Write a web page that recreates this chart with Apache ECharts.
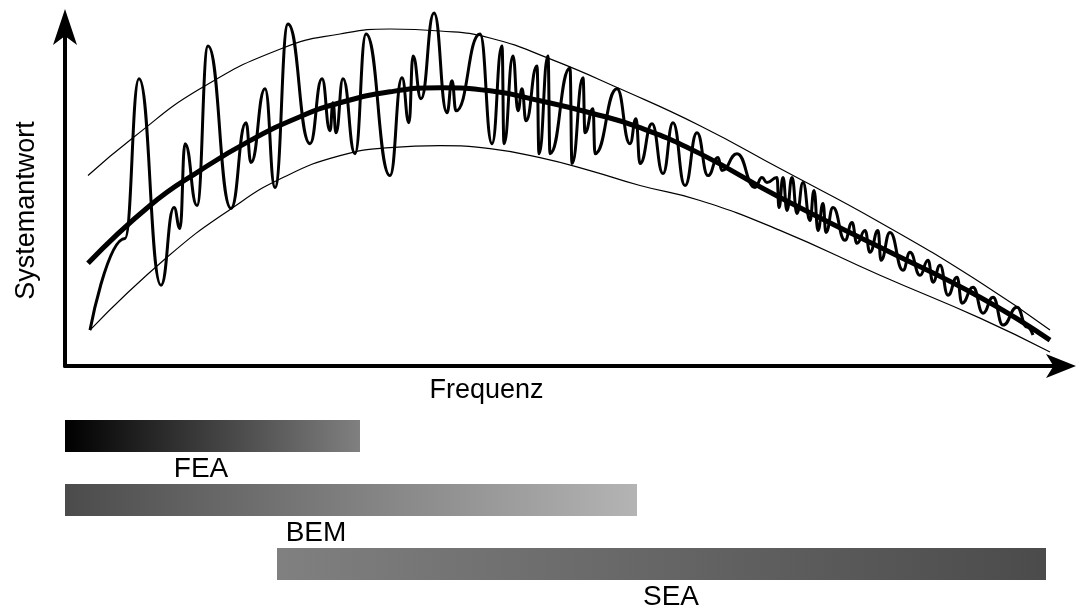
<!DOCTYPE html>
<html>
<head>
<meta charset="utf-8">
<script src="https://cdn.jsdelivr.net/npm/echarts@6/dist/echarts.min.js"></script>
<style>
  html, body { margin: 0; padding: 0; background: #fff; }
  #chart { width: 1076px; height: 612px; }
</style>
</head>
<body>
<div id="chart"></div>
<script>
// Frequenz (0..997) / Systemantwort (0..340), schematic units
const meanCurve = [[23,103],[85,161],[135,196],[185,226],[235,250],[275,264],[325,275],[375,279],[425,276],[475,266],[525,254],[575,239],[635,213],[715,169],[815,119],[915,69],[985,26]]
const upperBound = [[23,191],[68,229],[135,278],[218,319],[275,333],[325,338],[375,336],[425,329],[485,308],[555,278],[635,241],[715,198],[815,144],[915,84],[985,36]]
const lowerBound = [[25,36],[102,109],[168,159],[218,189],[275,211],[325,219],[375,221],[425,218],[475,209],[525,196],[575,181],[635,166],[715,136],[815,91],[915,48],[985,14]]
const response = [
  [25,36],[60,128],[74,288],[96,81],[109,159],[115,138],[120,223],[132,161],[143,321],[166,158],[181,244],
  [186,204],[200,278],[210,179],[223,343],[245,223],[257,288],[265,236],[268,264],[271,234],[278,288],
  [290,213],[301,333],[325,191],[337,289],[344,244],[348,311],[356,268],[369,354],[382,254],[387,286],
  [391,256],[415,333],[427,223],[437,321],[439,223],[448,311],[453,256],[457,278],[461,246],[472,301],
  [474,213],[483,311],[485,213],[505,299],[507,203],[518,289],[520,234],[528,258],[530,213],[552,278],
  [565,223],[571,248],[575,203],[587,243],[598,193],[608,244],[620,181],[632,234],[643,191],[653,209],
  [657,196],[672,213],[690,179],[697,189],[702,184],[712,189],[714,159],[718,189],[722,156],[727,189],
  [732,153],[738,184],[745,146],[749,176],[753,136],[758,163],[761,134],[768,159],[780,126],[787,144],
  [792,123],[800,136],[805,114],[813,136],[816,106],[825,134],[838,96],[845,114],[855,91],[863,106],
  [868,84],[875,101],[883,71],[892,89],[897,63],[908,79],[918,53],[928,69],[938,41],[952,59],
  [962,39],[968,31]
]

// Verfahren und ihre Frequenzbereiche
const methods = ['FEA', 'BEM', 'SEA']
const rangeStart = [0, 0, 212]
const rangeEnd = [295, 572, 981]
const labelAt = [136, 251, 606]

const gradients = [
  ['#000000', '#808080'],
  ['#4b4b4b', '#b4b4b4'],
  ['#808080', '#4b4b4b']
]

const font = 'Liberation Sans, Arial, sans-serif'
const myChart = echarts.init(document.getElementById('chart'))

const thin = { color: '#000', width: 1.2 }

const options = {
  animation: false,
  backgroundColor: '#fff',
  grid: [
    { left: 65, right: 14, top: 27, bottom: 246 },
    { left: 65, right: 14, top: 404, height: 192 }
  ],
  xAxis: [
    {
      type: 'value',
      min: 0,
      max: 997,
      name: 'Frequenz',
      nameLocation: 'middle',
      nameGap: 11,
      nameTextStyle: { fontSize: 27, fontFamily: font, color: '#000', padding: [0, 154, 0, 0] },
      axisLine: {
        symbol: ['none', 'arrow'],
        symbolSize: [18, 30],
        symbolOffset: [0, 14],
        lineStyle: { color: '#000', width: 4 }
      },
      axisTick: { show: false },
      axisLabel: { show: false },
      splitLine: { show: false }
    },
    { type: 'value', gridIndex: 1, min: 0, max: 997, show: false }
  ],
  yAxis: [
    {
      type: 'value',
      min: 0,
      max: 340,
      name: 'Systemantwort',
      nameLocation: 'middle',
      nameRotate: 90,
      nameGap: 25,
      nameTextStyle: { fontSize: 27, fontFamily: font, color: '#000', padding: [0, 28, 0, 0] },
      axisLine: {
        show: true,
        symbol: ['none', 'arrow'],
        symbolSize: [18, 36],
        symbolOffset: [0, 18],
        lineStyle: { color: '#000', width: 4 }
      },
      axisTick: { show: false },
      axisLabel: { show: false },
      splitLine: { show: false }
    },
    { type: 'category', gridIndex: 1, data: methods, inverse: true, show: false }
  ],
  series: [
    {
      type: 'line',
      data: upperBound,
      smooth: true,
      showSymbol: false,
      lineStyle: thin
    },
    {
      type: 'line',
      data: lowerBound,
      smooth: true,
      showSymbol: false,
      lineStyle: thin
    },
    {
      type: 'line',
      data: meanCurve,
      smooth: true,
      showSymbol: false,
      lineStyle: { color: '#000', width: 5 }
    },
    {
      type: 'line',
      data: response,
      smooth: 0.5,
      smoothMonotone: 'x',
      clip: false,
      showSymbol: false,
      lineStyle: { color: '#000', width: 3 }
    },
    {
      type: 'custom',
      xAxisIndex: 1,
      yAxisIndex: 1,
      data: methods.map((m, i) => [rangeStart[i], rangeEnd[i], i, labelAt[i]]),
      renderItem: function (params, api) {
        const i = params.dataIndex
        const p0 = api.coord([api.value(0), i])
        const p1 = api.coord([api.value(1), i])
        const pl = api.coord([api.value(3), i])
        const h = 32
        return {
          type: 'group',
          children: [
            {
              type: 'rect',
              shape: { x: p0[0], y: p0[1] - h / 2, width: p1[0] - p0[0], height: h },
              style: {
                fill: new echarts.graphic.LinearGradient(0, 0, 1, 0, [
                  { offset: 0, color: gradients[i][0] },
                  { offset: 1, color: gradients[i][1] }
                ])
              }
            },
            {
              type: 'text',
              style: {
                text: methods[i],
                x: pl[0],
                y: p0[1] + h / 2 + 3,
                fill: '#000',
                fontSize: 28,
                fontFamily: font,
                align: 'center',
                textAlign: 'center',
                verticalAlign: 'top',
                textVerticalAlign: 'top'
              }
            }
          ]
        }
      }
    }
  ]
}
myChart.setOption(options)
</script>
</body>
</html>
